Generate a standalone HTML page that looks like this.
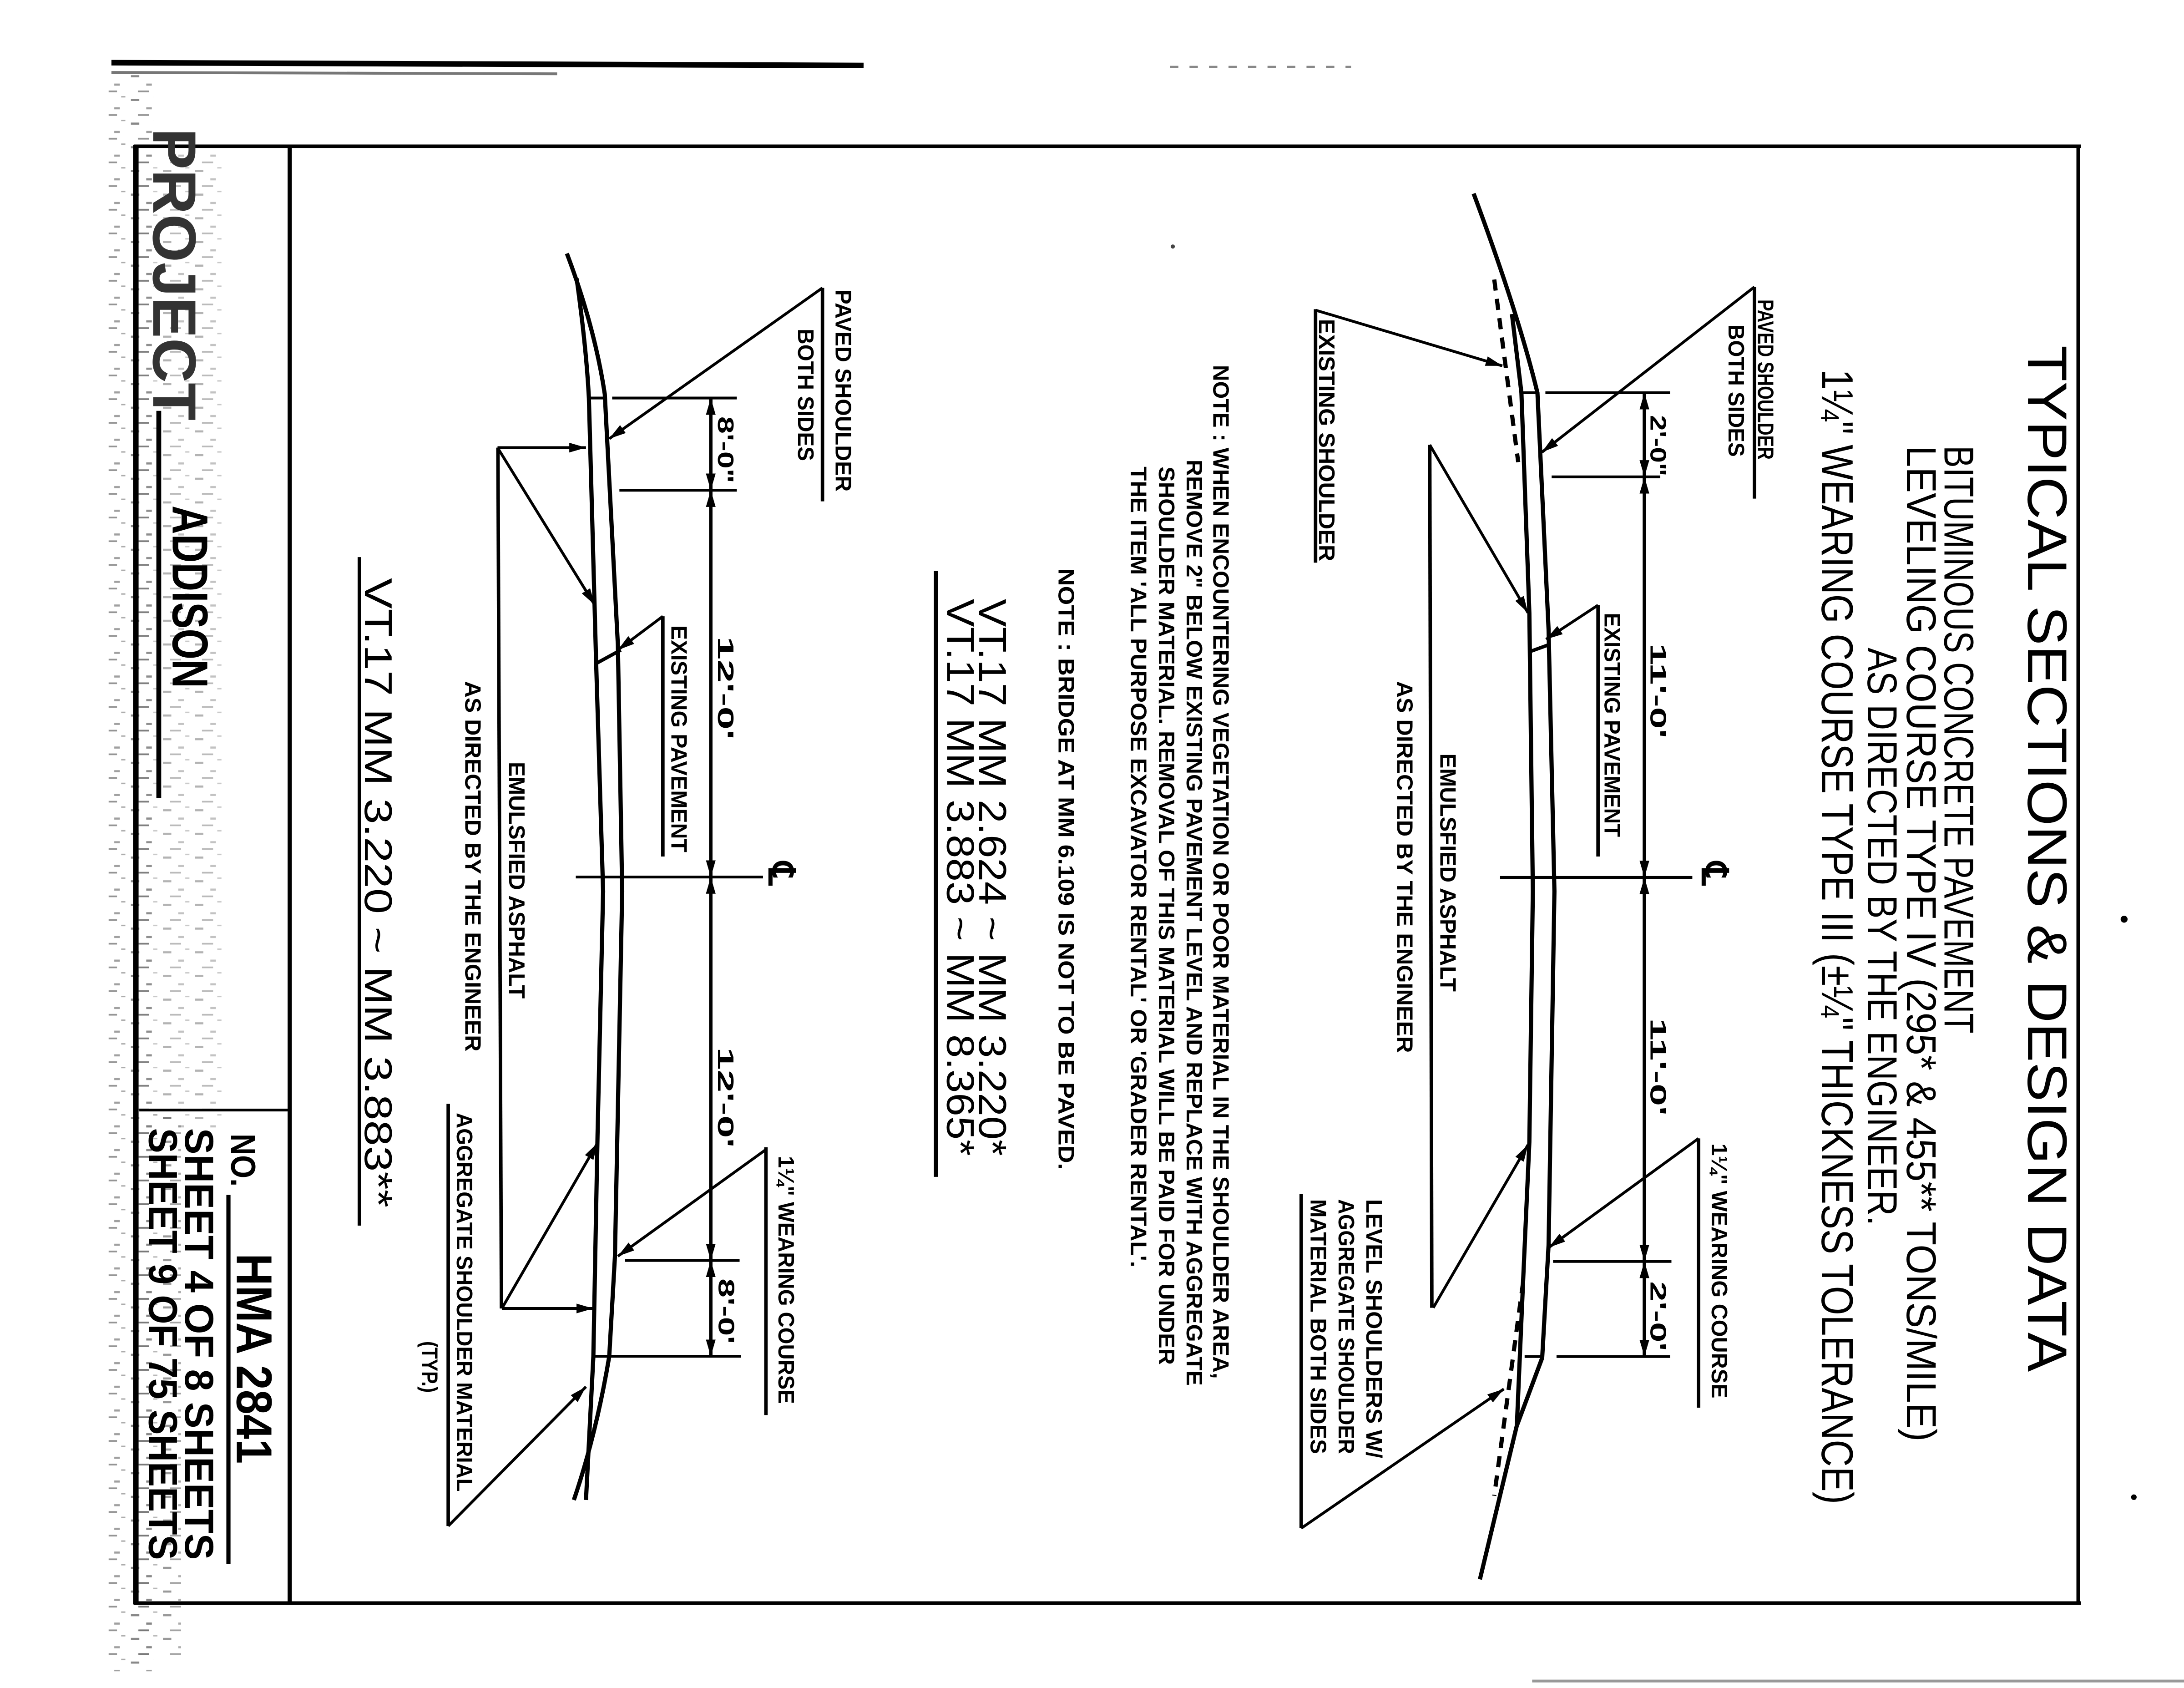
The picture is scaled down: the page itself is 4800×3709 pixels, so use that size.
<!DOCTYPE html>
<html><head><meta charset="utf-8">
<style>
html,body{margin:0;padding:0;background:#fff;}
svg{display:block;}
text{font-family:"Liberation Sans Narrow","Liberation Sans",sans-serif;fill:#000;}
.b{font-weight:bold;font-size:16px;}
.t{font-weight:normal;}
</style></head>
<body>
<svg width="4800" height="3709" viewBox="0 0 1568 1212" preserveAspectRatio="none" xmlns="http://www.w3.org/2000/svg">
<defs>
<marker id="a" viewBox="0 0 12 7" refX="12" refY="3.5" markerWidth="12" markerHeight="7" markerUnits="userSpaceOnUse" orient="auto-start-reverse">
<path d="M0,0 L12,3.5 L0,7 z" fill="#000"/>
</marker>
<pattern id="noise" width="23" height="17" patternUnits="userSpaceOnUse">
<rect x="2" y="3" width="6" height="1.5" fill="#555"/>
<rect x="13" y="9" width="4" height="1.5" fill="#777"/>
<rect x="7" y="14" width="8" height="1.2" fill="#666"/>
<rect x="18" y="1" width="3" height="1" fill="#888"/>
</pattern>
</defs>
<rect width="1568" height="1212" fill="#fff"/>

<!-- scan noise -->
<rect x="78" y="50" width="32" height="1150" fill="url(#noise)" opacity="0.7"/>
<rect x="100" y="110" width="60" height="700" fill="url(#noise)" opacity="0.45"/>
<rect x="100" y="800" width="30" height="390" fill="url(#noise)" opacity="0.6"/>
<line x1="80" y1="45" x2="620" y2="47" stroke="#000" stroke-width="4"/>
<line x1="80" y1="52" x2="400" y2="53" stroke="#777" stroke-width="2"/>
<line x1="840" y1="48" x2="970" y2="48" stroke="#888" stroke-width="1.5" stroke-dasharray="6,8"/>
<line x1="1100" y1="1207" x2="1568" y2="1207" stroke="#999" stroke-width="2"/>
<circle cx="1525" cy="660" r="2.5" fill="#000"/>
<circle cx="1532" cy="1075" r="2" fill="#000"/>
<circle cx="842" cy="177" r="1.5" fill="#444"/>

<!-- frame -->
<g stroke="#000" fill="none">
<line x1="96" y1="105" x2="1494" y2="105" stroke-width="2.5"/>
<line x1="96" y1="1151" x2="1494" y2="1151" stroke-width="2.5"/>
<line x1="1492" y1="104" x2="1492" y2="1152" stroke-width="2.5"/>
<line x1="97.5" y1="104" x2="97.5" y2="1152" stroke-width="4"/>
<line x1="208" y1="104" x2="208" y2="1152" stroke-width="3"/>
<line x1="100" y1="797" x2="208" y2="797" stroke-width="2"/>
<line x1="114" y1="295" x2="114" y2="573" stroke-width="3.5"/>
<line x1="164" y1="858" x2="164" y2="1123" stroke-width="3"/>
</g>

<!-- title block text -->
<text transform="translate(110,92) rotate(90)" style="font-weight:bold;font-size:44px;fill:#333" textLength="210" lengthAdjust="spacingAndGlyphs">PROJECT</text>
<text transform="translate(124,363) rotate(90)" style="font-weight:bold;font-size:36px" textLength="131" lengthAdjust="spacingAndGlyphs">ADDISON</text>
<text transform="translate(166,814) rotate(90)" style="font-weight:bold;font-size:25px" textLength="38" lengthAdjust="spacingAndGlyphs">NO.</text>
<text transform="translate(170,900) rotate(90)" style="font-weight:bold;font-size:36px" textLength="151" lengthAdjust="spacingAndGlyphs">HMA 2841</text>
<text transform="translate(133,810) rotate(90)" style="font-weight:bold;font-size:29px" textLength="310" lengthAdjust="spacingAndGlyphs">SHEET 4 OF 8 SHEETS</text>
<text transform="translate(107,810) rotate(90)" style="font-weight:bold;font-size:29px" textLength="310" lengthAdjust="spacingAndGlyphs">SHEET 9 OF 75 SHEETS</text>

<!-- main titles -->
<text class="t" transform="translate(1456,248) rotate(90)" style="font-size:40px;font-family:'Liberation Sans',sans-serif;font-weight:300" textLength="737" lengthAdjust="spacingAndGlyphs">TYPICAL SECTIONS &amp; DESIGN DATA</text>
<text class="t" transform="translate(1396,320) rotate(90)" style="font-size:30px" textLength="422" lengthAdjust="spacingAndGlyphs">BITUMINOUS CONCRETE PAVEMENT</text>
<text class="t" transform="translate(1369,320) rotate(90)" style="font-size:30px" textLength="715" lengthAdjust="spacingAndGlyphs">LEVELING COURSE TYPE IV (295* &amp; 455** TONS/MILE)</text>
<text class="t" transform="translate(1341,465) rotate(90)" style="font-size:30px" textLength="415" lengthAdjust="spacingAndGlyphs">AS DIRECTED BY THE ENGINEER.</text>
<text class="t" transform="translate(1308,265) rotate(90)" style="font-size:32px" textLength="815" lengthAdjust="spacingAndGlyphs">1¼" WEARING COURSE TYPE III (±¼" THICKNESS TOLERANCE)</text>

<!-- notes -->
<text class="b" transform="translate(871,262) rotate(90)" textLength="728" lengthAdjust="spacingAndGlyphs">NOTE : WHEN ENCOUNTERING VEGETATION OR POOR MATERIAL IN THE SHOULDER AREA,</text>
<text class="b" transform="translate(852,330) rotate(90)" textLength="665" lengthAdjust="spacingAndGlyphs">REMOVE 2" BELOW EXISTING PAVEMENT LEVEL AND REPLACE WITH AGGREGATE</text>
<text class="b" transform="translate(832,335) rotate(90)" textLength="645" lengthAdjust="spacingAndGlyphs">SHOULDER MATERIAL. REMOVAL OF THIS MATERIAL WILL BE PAID FOR UNDER</text>
<text class="b" transform="translate(812,335) rotate(90)" textLength="575" lengthAdjust="spacingAndGlyphs">THE ITEM 'ALL PURPOSE EXCAVATOR RENTAL' OR 'GRADER RENTAL'.</text>
<text class="b" transform="translate(760,408) rotate(90)" textLength="432" lengthAdjust="spacingAndGlyphs">NOTE : BRIDGE AT MM 6.109 IS NOT TO BE PAVED.</text>
<text transform="translate(703,430) rotate(90)" style="font-size:28px" textLength="400" lengthAdjust="spacingAndGlyphs">VT.17   MM 2.624 ~ MM 3.220*</text>
<text transform="translate(680,430) rotate(90)" style="font-size:28px" textLength="400" lengthAdjust="spacingAndGlyphs">VT.17   MM 3.883 ~ MM 8.365*</text>
<line x1="672" y1="410" x2="672" y2="845" stroke="#000" stroke-width="3"/>
<text transform="translate(262,415) rotate(90)" style="font-size:28px" textLength="452" lengthAdjust="spacingAndGlyphs">VT.17   MM 3.220 ~ MM 3.883**</text>
<line x1="258" y1="400" x2="258" y2="880" stroke="#000" stroke-width="2.5"/>

<!-- ===== UPPER SECTION ===== -->
<g stroke="#000" fill="none" stroke-linejoin="round">
<path d="M1058,139 Q1090,225 1103.8,282 L1111.8,452 L1116,640 L1111.8,894 L1107.2,975 L1088.9,1024 L1062.5,1134" stroke-width="3"/>
<path d="M1085.5,225.5 L1092.3,282 L1098,440 L1100.5,640 L1098,820 L1093.5,920 L1089,1024" stroke-width="3"/>
<line x1="1092.3" y1="282" x2="1103.8" y2="282" stroke-width="2"/>
<line x1="1098" y1="468" x2="1111.8" y2="463" stroke-width="2.5"/>
<line x1="1094.6" y1="974" x2="1107.2" y2="974" stroke-width="2"/>
<path d="M1072.8,200.7 L1090,331.8" stroke-width="3" stroke-dasharray="8,6"/>
<path d="M1093.5,920.7 L1072.8,1074" stroke-width="3" stroke-dasharray="8,6"/>
<!-- ext lines -->
<line x1="1109.5" y1="282" x2="1199" y2="282" stroke-width="2"/>
<line x1="1114" y1="342.4" x2="1192" y2="342.4" stroke-width="2"/>
<line x1="1077" y1="630" x2="1215" y2="630" stroke-width="2"/>
<line x1="1115" y1="905.7" x2="1200" y2="905.7" stroke-width="2"/>
<line x1="1117.5" y1="974" x2="1199" y2="974" stroke-width="2"/>
<!-- dim -->
<line x1="1180.6" y1="282" x2="1180.6" y2="342.4" stroke-width="2.5" marker-start="url(#a)" marker-end="url(#a)"/>
<line x1="1180.6" y1="342.4" x2="1180.6" y2="630" stroke-width="2.5" marker-start="url(#a)" marker-end="url(#a)"/>
<line x1="1180.6" y1="630" x2="1180.6" y2="905.7" stroke-width="2.5" marker-start="url(#a)" marker-end="url(#a)"/>
<line x1="1180.6" y1="905.7" x2="1180.6" y2="974" stroke-width="2.5" marker-start="url(#a)" marker-end="url(#a)"/>
<!-- leaders -->
<line x1="1259.6" y1="206" x2="1259.6" y2="358" stroke-width="2.5"/>
<line x1="1259.6" y1="206" x2="1107" y2="324.7" stroke-width="2" marker-end="url(#a)"/>
<line x1="944.5" y1="222" x2="944.5" y2="404" stroke-width="2.5"/>
<line x1="944.5" y1="222.7" x2="1078.6" y2="262.7" stroke-width="2" marker-end="url(#a)"/>
<line x1="1026.5" y1="319.4" x2="1028" y2="939" stroke-width="2.5"/>
<line x1="1026.5" y1="319.4" x2="1097" y2="440" stroke-width="2" marker-end="url(#a)"/>
<line x1="1029" y1="939" x2="1097" y2="822" stroke-width="2" marker-end="url(#a)"/>
<line x1="1147.3" y1="434.5" x2="1147.3" y2="615" stroke-width="2.5"/>
<line x1="1147.3" y1="434.5" x2="1110" y2="459" stroke-width="2" marker-end="url(#a)"/>
<line x1="1219.5" y1="817.4" x2="1219.5" y2="1010.7" stroke-width="2.5"/>
<line x1="1219.5" y1="817.4" x2="1112" y2="895.7" stroke-width="2" marker-end="url(#a)"/>
<line x1="934.2" y1="857.3" x2="934.2" y2="1097" stroke-width="2.5"/>
<line x1="934.2" y1="1097.3" x2="1079.7" y2="997.3" stroke-width="2" marker-end="url(#a)"/>
</g>
<text transform="translate(1222,619) rotate(90)" style="font-size:26px;font-weight:bold">℄</text>
<text class="b" transform="translate(1262,215) rotate(90)" textLength="115" lengthAdjust="spacingAndGlyphs">PAVED SHOULDER</text>
<text class="b" transform="translate(1241,233) rotate(90)" textLength="95" lengthAdjust="spacingAndGlyphs">BOTH SIDES</text>
<text class="b" transform="translate(947,229) rotate(90)" textLength="174" lengthAdjust="spacingAndGlyphs">EXISTING SHOULDER</text>
<text class="b" transform="translate(1152,440) rotate(90)" textLength="161" lengthAdjust="spacingAndGlyphs">EXISTING PAVEMENT</text>
<text class="b" transform="translate(1034,541) rotate(90)" textLength="171" lengthAdjust="spacingAndGlyphs">EMULSFIED ASPHALT</text>
<text class="b" transform="translate(1003,489) rotate(90)" textLength="267" lengthAdjust="spacingAndGlyphs">AS DIRECTED BY THE ENGINEER</text>
<text class="b" transform="translate(1185,298) rotate(90)" textLength="44" lengthAdjust="spacingAndGlyphs">2'-0"</text>
<text class="b" transform="translate(1185,462) rotate(90)" textLength="68" lengthAdjust="spacingAndGlyphs">11'-0'</text>
<text class="b" transform="translate(1185,731) rotate(90)" textLength="70" lengthAdjust="spacingAndGlyphs">11'-0'</text>
<text class="b" transform="translate(1185,920) rotate(90)" textLength="50" lengthAdjust="spacingAndGlyphs">2'-0'</text>
<text class="b" transform="translate(1229,821) rotate(90)" textLength="183" lengthAdjust="spacingAndGlyphs">1¼" WEARING COURSE</text>
<text class="b" transform="translate(981,861) rotate(90)" textLength="186" lengthAdjust="spacingAndGlyphs">LEVEL SHOULDERS W/</text>
<text class="b" transform="translate(961,861) rotate(90)" textLength="183" lengthAdjust="spacingAndGlyphs">AGGREGATE SHOULDER</text>
<text class="b" transform="translate(941,861) rotate(90)" textLength="183" lengthAdjust="spacingAndGlyphs">MATERIAL BOTH SIDES</text>

<!-- ===== LOWER SECTION ===== -->
<g stroke="#000" fill="none" stroke-linejoin="round">
<path d="M407,182 Q427,235 434.2,283 L443.6,463 L446.7,640 L441.5,902 L437.4,974 Q428,1030 412,1077" stroke-width="3"/>
<path d="M414,200 Q421,250 422.8,286 L428,476 L433,640 L429,815 L426,974 Q423,1030 420.7,1077" stroke-width="3"/>
<line x1="422.8" y1="285.8" x2="435.3" y2="285.8" stroke-width="2"/>
<line x1="428" y1="476.4" x2="445.7" y2="466.7" stroke-width="2.5"/>
<line x1="425.9" y1="973.8" x2="437.4" y2="973.8" stroke-width="2"/>
<line x1="439.5" y1="285.8" x2="529" y2="285.8" stroke-width="2"/>
<line x1="444.7" y1="352" x2="529" y2="352" stroke-width="2"/>
<line x1="413.4" y1="629.7" x2="547.8" y2="629.7" stroke-width="2"/>
<line x1="448.8" y1="905" x2="531" y2="905" stroke-width="2"/>
<line x1="427" y1="973.8" x2="532" y2="973.8" stroke-width="2"/>
<line x1="510.3" y1="285.8" x2="510.3" y2="352" stroke-width="2.5" marker-start="url(#a)" marker-end="url(#a)"/>
<line x1="510.3" y1="352" x2="510.3" y2="629.7" stroke-width="2.5" marker-start="url(#a)" marker-end="url(#a)"/>
<line x1="510.3" y1="629.7" x2="510.3" y2="905" stroke-width="2.5" marker-start="url(#a)" marker-end="url(#a)"/>
<line x1="510.3" y1="905" x2="510.3" y2="973.8" stroke-width="2.5" marker-start="url(#a)" marker-end="url(#a)"/>
<line x1="590.5" y1="206.7" x2="590.5" y2="360" stroke-width="2.5"/>
<line x1="590.5" y1="206.7" x2="437.4" y2="315" stroke-width="2" marker-end="url(#a)"/>
<line x1="357.5" y1="321.4" x2="360" y2="939.5" stroke-width="2.5"/>
<line x1="357.2" y1="321.4" x2="420.7" y2="321.4" stroke-width="2" marker-end="url(#a)"/>
<line x1="357.2" y1="321.4" x2="427" y2="434.4" stroke-width="2" marker-end="url(#a)"/>
<line x1="360.3" y1="939.5" x2="425.9" y2="939.5" stroke-width="2" marker-end="url(#a)"/>
<line x1="360.3" y1="939.5" x2="429" y2="820.7" stroke-width="2" marker-end="url(#a)"/>
<line x1="475.9" y1="442.5" x2="475.9" y2="615" stroke-width="2.5"/>
<line x1="475.9" y1="442.5" x2="443.6" y2="466.7" stroke-width="2" marker-end="url(#a)"/>
<line x1="549.9" y1="823.8" x2="549.9" y2="1016" stroke-width="2.5"/>
<line x1="549.9" y1="825.4" x2="443.6" y2="902" stroke-width="2" marker-end="url(#a)"/>
<line x1="321.8" y1="792.6" x2="321.8" y2="1095.7" stroke-width="2.5"/>
<line x1="321.8" y1="1095.7" x2="420.7" y2="995.7" stroke-width="2" marker-end="url(#a)"/>
</g>
<text transform="translate(552,619) rotate(90)" style="font-size:26px;font-weight:bold">℄</text>
<text class="b" transform="translate(600,208) rotate(90)" textLength="145" lengthAdjust="spacingAndGlyphs">PAVED SHOULDER</text>
<text class="b" transform="translate(573,236) rotate(90)" textLength="95" lengthAdjust="spacingAndGlyphs">BOTH SIDES</text>
<text class="b" transform="translate(515.5,299) rotate(90)" textLength="48" lengthAdjust="spacingAndGlyphs">8'-0"</text>
<text class="b" transform="translate(515.5,457) rotate(90)" textLength="74" lengthAdjust="spacingAndGlyphs">12'-0'</text>
<text class="b" transform="translate(515.5,752) rotate(90)" textLength="72" lengthAdjust="spacingAndGlyphs">12'-0'</text>
<text class="b" transform="translate(516,918) rotate(90)" textLength="47" lengthAdjust="spacingAndGlyphs">8'-0'</text>
<text class="b" transform="translate(482,449) rotate(90)" textLength="163" lengthAdjust="spacingAndGlyphs">EXISTING PAVEMENT</text>
<text class="b" transform="translate(365.5,547) rotate(90)" textLength="170" lengthAdjust="spacingAndGlyphs">EMULSFIED ASPHALT</text>
<text class="b" transform="translate(334,489) rotate(90)" textLength="266" lengthAdjust="spacingAndGlyphs">AS DIRECTED BY THE ENGINEER</text>
<text class="b" transform="translate(559,830) rotate(90)" textLength="178" lengthAdjust="spacingAndGlyphs">1¼" WEARING COURSE</text>
<text class="b" transform="translate(328,799) rotate(90)" textLength="272" lengthAdjust="spacingAndGlyphs">AGGREGATE SHOULDER MATERIAL</text>
<text class="b" transform="translate(303,963) rotate(90)" textLength="37" lengthAdjust="spacingAndGlyphs">(TYP.)</text>
</svg>
</body></html>
